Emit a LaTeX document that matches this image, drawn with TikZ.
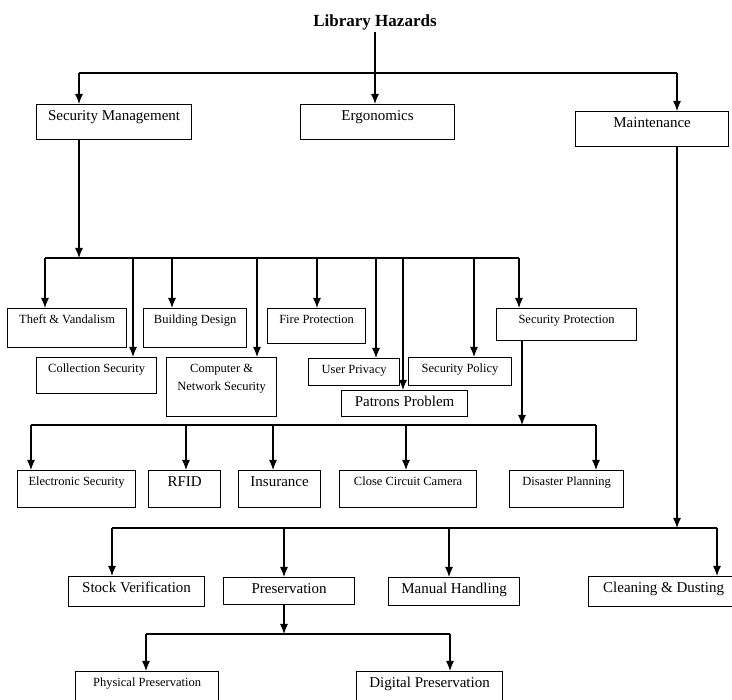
\documentclass[tikz,border=0pt]{standalone}
\usepackage{fontspec}
\setmainfont{Liberation Serif}
\usetikzlibrary{arrows.meta}

\begin{document}
\begin{tikzpicture}[
        x                  = 1pt,
        y                  = -1pt,
        line width         = 1.2pt,
        box/.style         = {draw, anchor=north west, inner xsep=2pt, inner ysep=0pt,
                              text height=15pt, font=\fontsize{12.5}{15}\selectfont},
        big/.style         = {text height=16pt, font=\fontsize{15}{18}\selectfont},
        link/.style        = {draw, -{Latex[length=10pt, width=8pt]}},
    ]
    \useasboundingbox (0,0) rectangle (732,700);

    \node [inner sep=1pt, anchor=base] (hazards) at (375,27)
        {\fontsize{17}{20}\selectfont\bfseries Library Hazards};

    % first level
    \node [box, big, minimum width=155, text depth=19] (secman) at (36,104) {Security Management};
    \node [box, big, minimum width=154, text depth=19] (ergo) at (300,104) {Ergonomics};
    \node [box, big, minimum width=153, text depth=19] (maint) at (575,111) {Maintenance};

    % security management
    \node [box, minimum width=119, text depth=24] (theft) at (7,308) {Theft \& Vandalism};
    \node [box, minimum width=120, text depth=21] (coll) at (36,357) {Collection Security};
    \node [box, minimum width=103, text depth=24] (build) at (143,308) {Building Design};
    \node [box, minimum width=110, text depth=44] (comp) at (166,357)
        {\begin{tabular}[t]{@{}c@{}}Computer \&\\[3pt]Network Security\end{tabular}};
    \node [box, minimum width=98, text depth=20] (fire) at (267,308) {Fire Protection};
    \node [box, minimum width=91, text depth=12] (privacy) at (308,358) {User Privacy};
    \node [box, big, minimum width=126, text depth=10] (patrons) at (341,390) {Patrons Problem};
    \node [box, minimum width=103, text depth=13] (policy) at (408,357) {Security Policy};
    \node [box, minimum width=140, text depth=17] (secprot) at (496,308) {Security Protection};

    % security protection
    \node [box, minimum width=118, text depth=22] (elec) at (17,470) {Electronic Security};
    \node [box, big, minimum width=72, text depth=21] (rfid) at (148,470) {RFID};
    \node [box, big, minimum width=82, text depth=21] (insur) at (238,470) {Insurance};
    \node [box, minimum width=137, text depth=22] (cctv) at (339,470) {Close Circuit Camera};
    \node [box, minimum width=114, text depth=22] (disaster) at (509,470) {Disaster Planning};

    % maintenance
    \node [box, big, minimum width=136, text depth=14] (stock) at (68,576) {Stock Verification};
    \node [box, big, minimum width=131, text depth=11] (preserv) at (223,577) {Preservation};
    \node [box, big, minimum width=131, text depth=12] (manual) at (388,577) {Manual Handling};
    \node [box, big, minimum width=150, text depth=14] (clean) at (588,576) {Cleaning \& Dusting};

    % preservation
    \node [box, minimum width=143, text depth=25] (phys) at (75,671) {Physical Preservation};
    \node [box, big, minimum width=146, text depth=24] (digital) at (356,671) {Digital Preservation};

    % connectors
    \draw [link] (hazards) -- (hazards |- ergo.north);
    \coordinate (top w) at (79,73);
    \coordinate (top e) at (677,73);
    \draw (top w) -- (top e);
    \draw [link] (top w) -- (top w |- secman.north);
    \draw [link] (top e) -- (top e |- maint.north);

    \coordinate (sm bus) at (79,258);
    \draw [link] (sm bus |- secman.south) -- (sm bus);
    \foreach \n/\x in {theft/45, coll/133, build/172, comp/257, fire/317,
                       privacy/376, patrons/403, policy/474, secprot/519} {
        \coordinate (bus1 \n) at (\x,258);
        \draw [link] (bus1 \n) -- (bus1 \n |- \n.north);
    }
    \draw (bus1 theft) -- (bus1 secprot);

    \coordinate (sp bus) at (522,425);
    \draw [link] (sp bus |- secprot.south) -- (sp bus);
    \foreach \n/\x in {elec/31, rfid/186, insur/273, cctv/406, disaster/596} {
        \coordinate (bus2 \n) at (\x,425);
        \draw [link] (bus2 \n) -- (bus2 \n |- \n.north);
    }
    \draw (bus2 elec) -- (bus2 disaster);

    \coordinate (mt bus) at (677,528);
    \draw [link] (mt bus |- maint.south) -- (mt bus);
    \foreach \n/\x in {stock/112, preserv/284, manual/449, clean/717} {
        \coordinate (bus3 \n) at (\x,528);
        \draw [link] (bus3 \n) -- (bus3 \n |- \n.north);
    }
    \draw (bus3 stock) -- (bus3 clean);

    \coordinate (pr bus) at (284,634);
    \draw [link] (pr bus |- preserv.south) -- (pr bus);
    \foreach \n/\x in {phys/146, digital/450} {
        \coordinate (bus4 \n) at (\x,634);
        \draw [link] (bus4 \n) -- (bus4 \n |- \n.north);
    }
    \draw (bus4 phys) -- (bus4 digital);
\end{tikzpicture}
\end{document}
